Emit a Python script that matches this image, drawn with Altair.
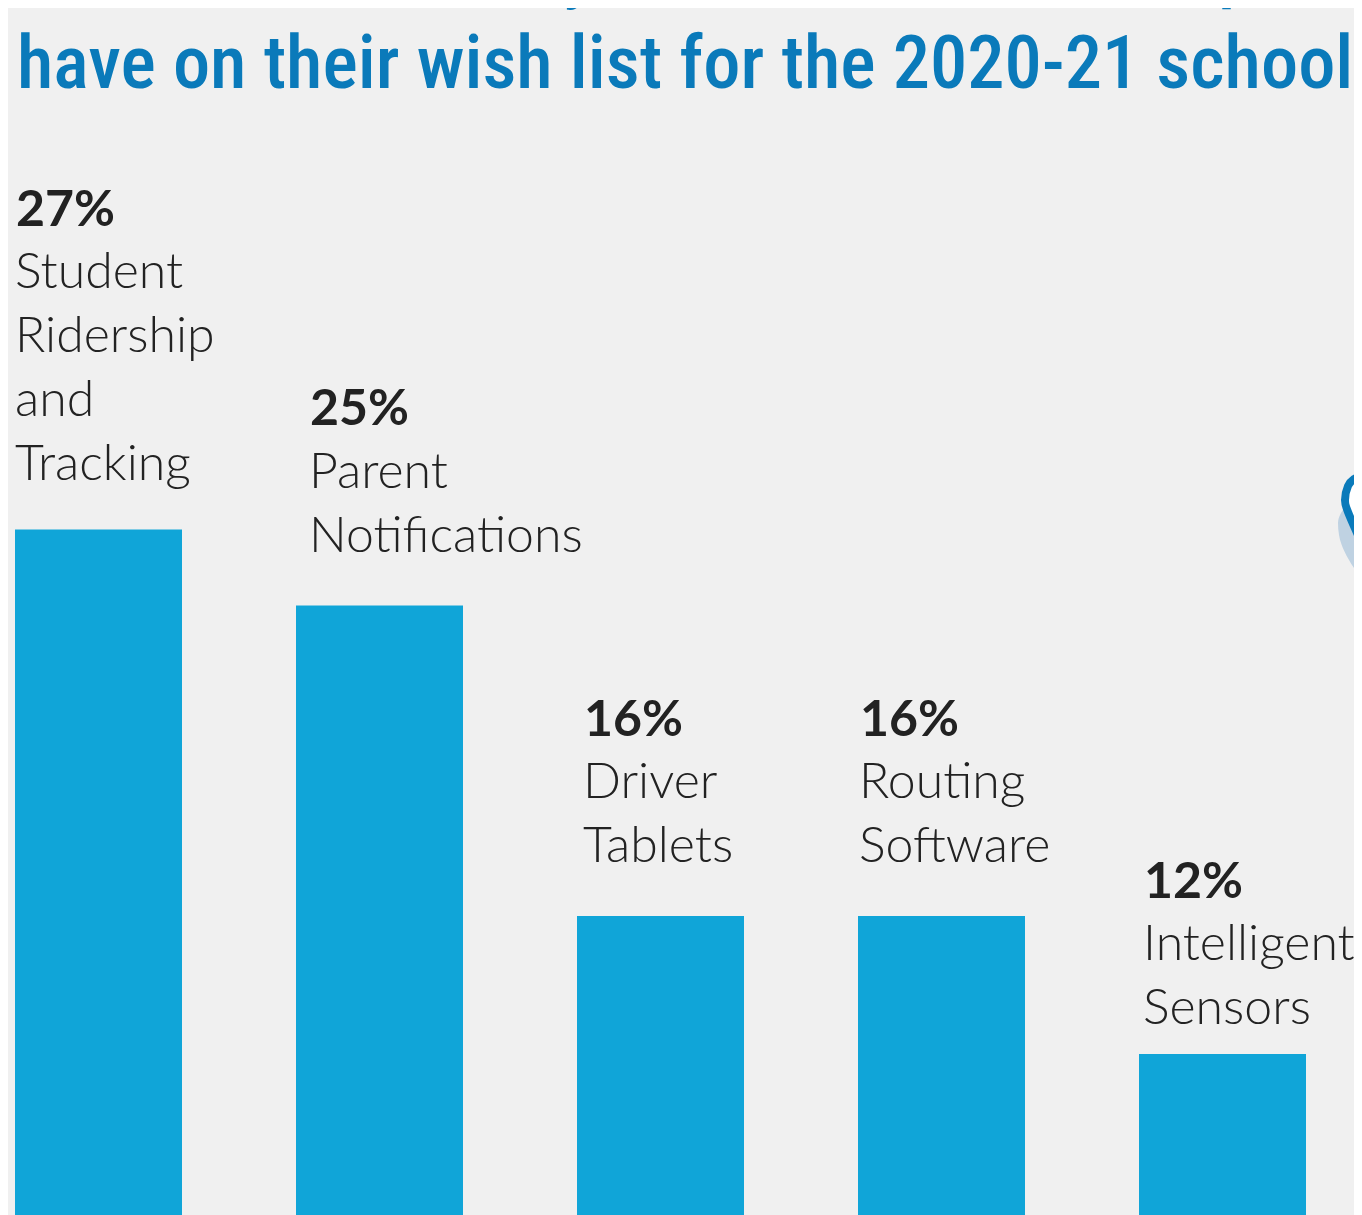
import altair as alt
import pandas as pd

categories = ["Student Ridership and Tracking", "Parent Notifications", "Driver Tablets", "Routing Software", "Intelligent Sensors"]
values = [27.2, 25, 16, 16, 12]
percent_labels = ["27%", "25%", "16%", "16%", "12%"]
label_lines = [["Student", "Ridership", "and", "Tracking"], ["Parent", "Notifications"], ["Driver", "Tablets"], ["Routing", "Software"], ["Intelligent", "Sensors"]]
title_line = "have on their wish list for the 2020-21 school"

# layout (separate from the data)
W, H = 1346, 1207
label_dx = [0, 13, 6, 1, 4]
label_gap = [49.5, 53.5, 53.5, 53.5, 29.5]
pct_gap = [48, 52, 52, 52, 28]
LINE = 64
BODY = "Lato"
TITLE_FONT = "'Roboto Condensed'"
BLUE, BAR, INK = "#0a7aba", "#10a5d8", "#222222"

df = pd.DataFrame({"category": categories, "value": values})
xs = alt.Scale(type="band", domain=categories, range=[7, 1298], paddingInner=0.4057, paddingOuter=0)
ys = alt.Scale(domain=[7.33, 42.32], nice=False, zero=False)
X = alt.X("category:N", scale=xs, axis=None, sort=categories, title=None)
Y = alt.Y("value:Q", scale=ys, axis=None, title=None)

layers = [
    alt.Chart(df).mark_bar(color=BAR, clip=True).encode(
        x=X, y=Y, y2=alt.datum(0))
]
TX = alt.X("category:N", scale=xs, axis=None, sort=categories, bandPosition=0)
for i, cat in enumerate(categories):
    row = pd.DataFrame({"category": [cat], "value": [values[i]]})
    n = len(label_lines[i])
    for j, line in enumerate(label_lines[i]):
        layers.append(alt.Chart(row).mark_text(
            text=line, font=BODY, fontWeight=300, fontSize=50, color=INK,
            align="left", baseline="alphabetic",
            dx=label_dx[i], dy=-(label_gap[i] + (n - 1 - j) * LINE),
        ).encode(x=TX, y=Y))
    layers.append(alt.Chart(row).mark_text(
        text=percent_labels[i], font=BODY, fontWeight=700, fontSize=50, color=INK,
        align="left", baseline="alphabetic",
        dx=label_dx[i] + 1, dy=-(pct_gap[i] + n * LINE),
    ).encode(x=TX, y=Y))

title_style = dict(font=TITLE_FONT, fontSize=74.5, fontWeight=500, color=BLUE, align="left", baseline="alphabetic")
layers.append(alt.Chart(pd.DataFrame({"t": [title_line]})).mark_text(**title_style).encode(
    text="t:N", x=alt.value(9), y=alt.value(80)))
for glyph, gx in [("y", 555), ("p", 1210)]:
    layers.append(alt.Chart(pd.DataFrame({"t": [glyph]})).mark_text(**title_style).encode(
        text="t:N", x=alt.value(gx), y=alt.value(-14)))

# cropped illustration on the right edge (pixel coordinates)
shadow = pd.DataFrame({"y": [498, 505, 515, 527, 572], "x": [1338, 1333, 1330, 1331, 1354], "x2": 1354})
outline = pd.DataFrame({"y": [468, 471, 478, 492, 504, 536], "x": [1354, 1346, 1340, 1337, 1340, 1354], "x2": 1354})
px = alt.Scale(domain=[0, W], range=[0, W])
py = alt.Scale(domain=[0, H], range=[0, H])
PX = alt.X("x:Q", scale=px, axis=None)
PY = alt.Y("y:Q", scale=py, axis=None)
layers.append(alt.Chart(pd.DataFrame({"x": [1358], "y": [390]})).mark_circle(color="#c5dbe6", size=314, opacity=1).encode(x=PX, y=PY))
layers.append(alt.Chart(shadow).mark_area(color="#bfd2e2", orient="horizontal", interpolate="monotone").encode(x=PX, x2="x2:Q", y=PY))
layers.append(alt.Chart(outline).mark_area(color="white", orient="horizontal", interpolate="monotone").encode(x=PX, x2="x2:Q", y=PY))
layers.append(alt.Chart(outline).mark_line(color=BLUE, strokeWidth=8, interpolate="cardinal", strokeJoin="round").encode(x=PX, y=PY, order="y:Q"))

chart = alt.layer(*layers).resolve_scale(y="independent", x="independent").properties(
    width=W, height=H, background="#f0f0f0", padding=0,
    autosize=alt.AutoSizeParams(type="none"),
).configure_view(stroke=None)

chart.save("out.html", embed_options={"renderer": "svg", "actions": False})
